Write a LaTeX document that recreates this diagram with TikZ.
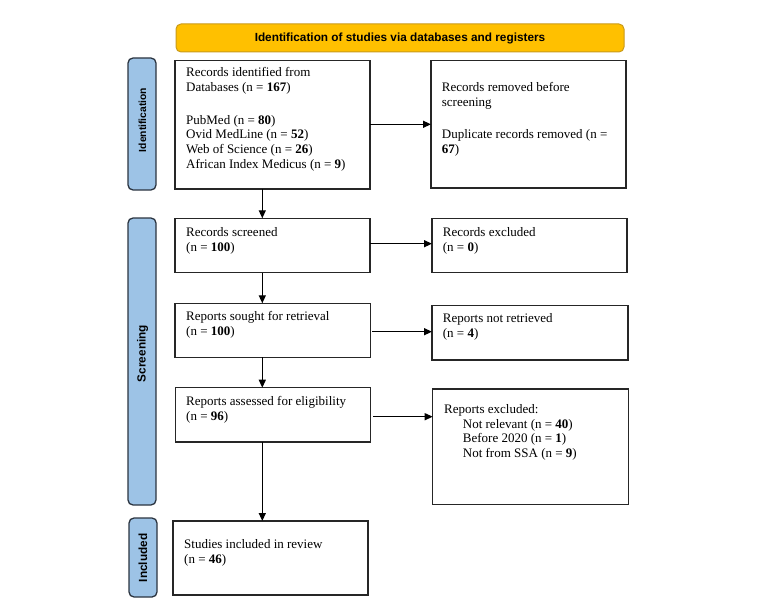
\documentclass[tikz,border=0pt]{standalone}
\usepackage{fontspec}
\setmainfont{Liberation Serif}
\newfontfamily\hdrfont{Liberation Sans}
\usetikzlibrary{arrows.meta,calc}
\definecolor{hdrfill}{HTML}{FFC000}
\definecolor{hdredge}{HTML}{C99A1A}
\definecolor{barfill}{HTML}{9DC3E6}
\definecolor{baredge}{HTML}{2B3440}
\tikzset{
  box/.style={draw=black!85, line width=1.35pt, anchor=north west, inner sep=0pt, outer sep=0pt},
  txt/.style={anchor=north west, inner sep=0pt, align=left, font=\fontsize{13}{14.8}\selectfont},
  sidebar/.style={draw=baredge, fill=barfill, line width=1.3pt, rounded corners=5pt, anchor=north west, inner sep=0pt, outer sep=0pt},
  sidetxt/.style={rotate=90, inner sep=0pt, font=\hdrfont\bfseries\fontsize{11.8}{13}\selectfont},
  hdr/.style={draw=hdredge, fill=hdrfill, line width=1pt, rounded corners=5pt, anchor=north west, inner sep=0pt, outer sep=0pt},
  arr/.style={-{Triangle[length=8pt,width=7pt]}, line width=1.3pt, black}
}
\begin{document}
\begin{tikzpicture}[x=1pt,y=-1pt]
\useasboundingbox (0,0) rectangle (780,602);
% header
\node[hdr, minimum width=448pt, minimum height=28pt] (hd) at (176,24) {};
\node[font=\hdrfont\bfseries\fontsize{11.8}{13}\selectfont, inner sep=0pt] (hdt) at (hd.center) {Identification of studies via databases and registers};
% side bars
\node[sidebar, minimum width=28pt, minimum height=132pt] (idb) at (128,58) {};
\node[sidebar, minimum width=28pt, minimum height=287pt] (scb) at (128,218) {};
\node[sidebar, minimum width=28pt, minimum height=79pt] (icb) at (129,518) {};
\node[sidetxt, font=\hdrfont\bfseries\fontsize{10.3}{12}\selectfont] (idt) at (142.5,120) {Identification};
\node[sidetxt] (sct) at (142.5,353.5) {Screening};
\node[sidetxt] (ict) at (143,558) {Included};
% boxes
\node[box, minimum width=195pt, minimum height=128.5pt] (b1) at (175,60.5) {};
\node[box, minimum width=195pt, minimum height=127.5pt] (rm) at (431,60.5) {};
\node[box, minimum width=195pt, minimum height=54.4pt] (scr) at (175,218.3) {};
\node[box, minimum width=195pt, minimum height=54.4pt] (exc) at (432,218.3) {};
\node[box, minimum width=195.5pt, minimum height=54pt] (sgt) at (175,303.3) {};
\node[box, minimum width=196pt, minimum height=54.3pt] (nrt) at (432,305.7) {};
\node[box, minimum width=195pt, minimum height=54.3pt] (ass) at (175.5,387.7) {};
\node[box, minimum width=195.6pt, minimum height=115.3pt] (ex2) at (432.7,389) {};
\node[box, minimum width=195pt, minimum height=74pt] (inc) at (173,521) {};
% texts
\node[txt] (t1) at (186,67) {Records identified from\\Databases (n = \textbf{167})\\[18.2pt]PubMed (n = \textbf{80})\\Ovid MedLine (n = \textbf{52})\\Web of Science (n = \textbf{26})\\African Index Medicus (n = \textbf{9})};
\node[txt] (trm) at (441.7,82) {Records removed before\\screening\\[17.5pt]Duplicate records removed (n =\\\textbf{67})};
\node[txt] (tscr) at (186,227) {Records screened\\(n = \textbf{100})};
\node[txt] (texc) at (442.7,227) {Records excluded\\(n = \textbf{0})};
\node[txt] (tsgt) at (186,311.5) {Reports sought for retrieval\\(n = \textbf{100})};
\node[txt] (tnrt) at (442.7,313.5) {Reports not retrieved\\(n = \textbf{4})};
\node[txt] (tass) at (186,396) {Reports assessed for eligibility\\(n = \textbf{96})};
\node[txt] (tex2) at (444,404) {Reports excluded:\\\hspace*{18.7pt}Not relevant (n = \textbf{40})\\\hspace*{18.7pt}Before 2020 (n = \textbf{1})\\\hspace*{18.7pt}Not from SSA (n = \textbf{9})};
\node[txt] (tinc) at (184,539) {Studies included in review\\(n = \textbf{46})};
% horizontal arrows
\draw[arr] (b1.east |- 0,124.3) -- (rm.west |- 0,124.3);
\draw[arr] (scr.east |- 0,243.7) -- (exc.west |- 0,243.7);
\draw[arr] ([xshift=1.5pt]sgt.east |- 0,331.7) -- (nrt.west |- 0,331.7);
\draw[arr] ([xshift=2.5pt]ass.east |- 0,416.7) -- (ex2.west |- 0,416.7);
% vertical arrows
\draw[arr] (262.3,0 |- b1.south) -- (262.3,0 |- scr.north);
\draw[arr] (262.3,0 |- scr.south) -- (262.3,0 |- sgt.north);
\draw[arr] (262.3,0 |- sgt.south) -- (262.3,0 |- ass.north);
\draw[arr] (262.3,0 |- ass.south) -- (262.3,0 |- inc.north);
\end{tikzpicture}
\end{document}
